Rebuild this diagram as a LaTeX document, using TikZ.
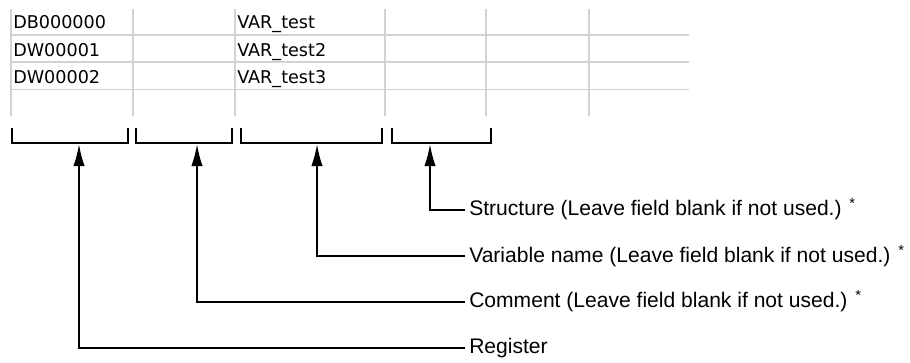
\documentclass[tikz,border=0pt]{standalone}
\usepackage{fontspec}
\newfontfamily\notefont{Liberation Sans}
\newfontfamily\cellfont{DejaVu Sans}
\usetikzlibrary{arrows.meta,calc,positioning}
\definecolor{ink}{HTML}{000000}
\definecolor{gridgray}{HTML}{D2D2D2}
\tikzset{
  gridline/.style={draw=gridgray,line width=1.1pt},
  cell/.style={anchor=base west,inner sep=0pt,text=ink,
               font=\cellfont\fontsize{13.2}{15}\selectfont},
  bracket/.style={draw=ink,line width=1.5pt,line join=miter},
  pointer/.style={-{Latex[length=16.5pt,width=8.5pt]},draw=ink,line width=1.5pt},
  note/.style={anchor=west,inner sep=3pt,text=ink,
               font=\notefont\fontsize{15.8}{18}\selectfont}
}
\newcommand{\unused}{(Leave field blank if not used.) \textsuperscript{*}}

\begin{document}
\begin{tikzpicture}[x=0.75pt,y=-0.75pt]
    \useasboundingbox (0,0) rectangle (910,362);
    % register table
    \draw[gridline] (11,9) -- (11,116) (133,9) -- (133,116) (235,9) -- (235,116)
                    (385,9) -- (385,116) (486,9) -- (486,116) (589,9) -- (589,116);
    \draw[gridline] (11,35) -- (689,35) (11,62) -- (689,62) (11,89.5) -- (689,89.5);
    \node[cell] (reg1) at (13,28) {DB000000};
    \node[cell] (reg2) at (13,56.7) {DW00001};
    \node[cell] (reg3) at (13,83.3) {DW00002};
    \node[cell] (var1) at (237,28) {VAR\_test};
    \node[cell] (var2) at (237,56.7) {VAR\_test2};
    \node[cell] (var3) at (237,83.3) {VAR\_test3};
    % column brackets
    \draw[bracket] (12,128) -- (12,143) -- (128,143) -- (128,128);
    \draw[bracket] (136,128) -- (136,143) -- (232,143) -- (232,128);
    \draw[bracket] (241,128) -- (241,143) -- (382,143) -- (382,128);
    \draw[bracket] (392,128) -- (392,143) -- (491,143) -- (491,128);
    \coordinate (regTip) at (79,144);
    \coordinate (comTip) at (197,144);
    \coordinate (varTip) at (317,144);
    \coordinate (strTip) at (430,144);
    % explanations
    \node[note] (strNote) at (465,209.5) {Structure \unused};
    \node[note] (varNote) at (465,256) {Variable name \unused};
    \node[note] (comNote) at (465,301.5) {Comment \unused};
    \node[note] (regNote) at (465,348) {Register};
    \draw[pointer] (strNote.west) -| (strTip);
    \draw[pointer] (varNote.west) -| (varTip);
    \draw[pointer] (comNote.west) -| (comTip);
    \draw[pointer] (regNote.west) -| (regTip);
\end{tikzpicture}
\end{document}
